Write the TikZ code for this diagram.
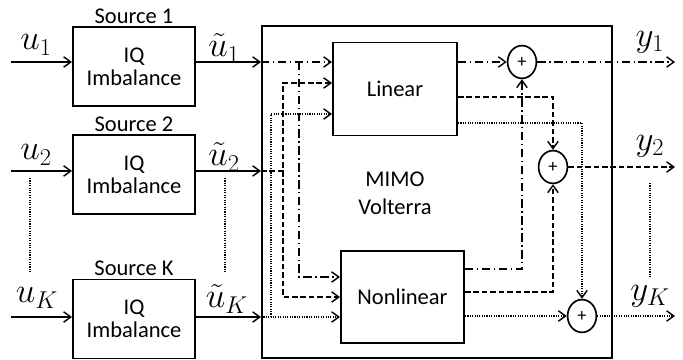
\documentclass[tikz,border=0pt]{standalone}
\usepackage{fontspec}
\setmainfont{Carlito}
\usepackage{tikz}
\usetikzlibrary{arrows.meta,positioning,shapes.geometric,calc}
\newcommand{\txtf}{\fontsize{16}{16.5}\selectfont}
\newcommand{\mathf}{\fontsize{23}{27}\selectfont}
\tikzset{
  blk/.style={draw,line width=1.4pt,align=center,font=\txtf,inner sep=2pt},
  srcbox/.style={blk,minimum width=30.5mm,minimum height=19.75mm},
  subbox/.style={blk,minimum height=23.25mm},
  sumnode/.style={draw,ellipse,line width=1.2pt,minimum width=7.2mm,minimum height=8.2mm,inner sep=0pt,font=\fontsize{13}{14}\selectfont},
  ar/.style={-{Straight Barb[length=1.8mm,width=2.6mm]},line width=1pt},
  sigA/.style={ar,dash pattern=on 6pt off 2.5pt on 1pt off 2.5pt},
  sigB/.style={ar,dash pattern=on 4pt off 2pt},
  sigC/.style={ar,dash pattern=on 0.8pt off 0.9pt},
  dotln/.style={line width=1pt,dash pattern=on 0.8pt off 0.9pt},
  lbl/.style={font=\txtf,inner sep=1.5pt},
  mlbl/.style={font=\mathf,inner sep=0pt},
}
\begin{document}
\begin{tikzpicture}
  \useasboundingbox (0,0) rectangle (17.075,9);
  % sources
  \node[srcbox] (src1) at (3.35,7.3375) {IQ\\Imbalance};
  \node[srcbox] (src2) at (3.35,4.6375) {IQ\\Imbalance};
  \node[srcbox] (srcK) at (3.35,1.025) {IQ\\Imbalance};
  \node[lbl,above=0pt of src1] (src1lbl) {Source 1};
  \node[lbl,above=0pt of src2] (src2lbl) {Source 2};
  \node[lbl,above=0pt of srcK] (srcKlbl) {Source K};
  % volterra block
  \node[draw,line width=1.4pt,minimum width=87.5mm,minimum height=83mm] (mimo) at (10.925,4.2) {};
  \node[lbl,align=center,font=\fontsize{16}{20}\selectfont] (mimotxt) at (9.875,4.175) {MIMO\\Volterra};
  \node[subbox,minimum width=31mm] (lin) at (9.875,6.775) {Linear};
  \node[subbox,minimum width=30.75mm,minimum height=23mm] (nl) at (10.0625,1.575) {Nonlinear};
  \node[sumnode] (s1) at (13.05,7.45) {+};
  \node[sumnode] (s2) at (13.825,4.825) {+};
  \node[sumnode] (s3) at (14.55,1.1) {+};
  % inputs
  \coordinate (in1) at (0.275,7.45);
  \coordinate (in2) at (0.275,4.725);
  \coordinate (inK) at (0.275,1.075);
  \coordinate (yend) at (16.875,0);
  \foreach \k in {1,2,K}{
    \draw[ar] (in\k) -- (in\k -| src\k.west);
    \draw[ar] (in\k -| src\k.east) -- (in\k -| mimo.west);
  }
  \node[mlbl] (u1) at (0.9,7.875) {$u_1$};
  \node[mlbl] (u2) at (0.9,5.125) {$u_2$};
  \node[mlbl] (uK) at (0.925,1.55) {$u_K$};
  \node[mlbl] (ut1) at (5.6,7.8) {$\tilde{u}_1$};
  \node[mlbl] (ut2) at (5.6,5.075) {$\tilde{u}_2$};
  \node[mlbl] (utK) at (5.675,1.525) {$\tilde{u}_K$};
  \draw[dotln] (0.75,4.55) -- (0.75,2.2);
  \draw[dotln] (5.625,4.55) -- (5.625,2.2);
  % routing to linear / nonlinear
  \coordinate (br1) at (7.475,7.45);
  \coordinate (br2) at (7.075,4.725);
  \coordinate (brK) at (6.775,1.075);
  \draw[sigA] (in1 -| mimo.west) -- (in1 -| lin.west);
  \draw[sigA] (br1) |- ([yshift=5mm]nl.west);
  \draw[sigB] (in2 -| mimo.west) -- (br2) |- ([yshift=1.5mm]lin.west);
  \draw[sigB] (br2) |- (nl.west);
  \draw[sigC] (inK -| mimo.west) -- (inK -| nl.west);
  \draw[sigC] (brK) |- ([yshift=-6.25mm]lin.west);
  % to the adders
  \draw[sigA] (s1 -| lin.east) -- (s1.west);
  \draw[sigB] ([yshift=-2mm]lin.east) -| (s2.north);
  \draw[sigC] ([yshift=-8.5mm]lin.east) -| (s3.north);
  \draw[sigA] ([yshift=7mm]nl.east) -| (s1.south);
  \draw[sigB] ([yshift=1.25mm]nl.east) -| (s2.south);
  \draw[sigC] (s3 -| nl.east) -- (s3.west);
  % outputs
  \draw[sigA] (s1.east) -- (s1 -| yend);
  \draw[sigB] (s2.east) -- (s2 -| yend);
  \draw[sigC] (s3.east) -- (s3 -| yend);
  \node[mlbl] (y1) at (16.25,7.95) {$y_1$};
  \node[mlbl] (y2) at (16.25,5.35) {$y_2$};
  \node[mlbl] (yK) at (16.25,1.6) {$y_K$};
  \draw[dotln] (16.25,4.425) -- (16.25,2.075);
\end{tikzpicture}
\end{document}
